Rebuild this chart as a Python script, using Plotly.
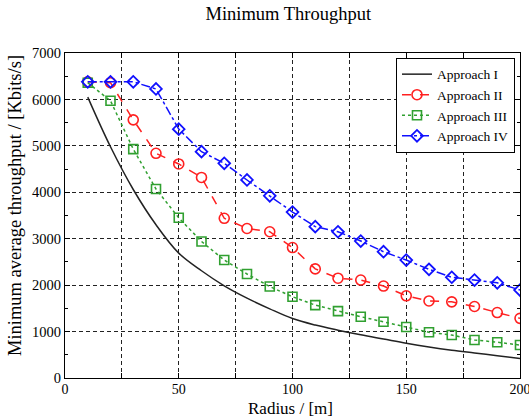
import plotly.graph_objects as go

radius = [10, 20, 30, 40, 50, 60, 70, 80, 90, 100,
          110, 120, 130, 140, 150, 160, 170, 180, 190, 200]

approach_1 = [6050, 4980, 4060, 3300, 2690, 2310, 1985, 1720, 1490, 1280,
              1140, 1030, 930, 840, 750, 670, 600, 540, 480, 420]
approach_2 = [6380, 6360, 5560, 4840, 4610, 4320, 3440, 3220, 3150, 2810,
              2350, 2150, 2110, 1980, 1770, 1660, 1640, 1540, 1410, 1285]
approach_3 = [6360, 5970, 4930, 4070, 3450, 2940, 2540, 2240, 1970, 1750,
              1570, 1440, 1320, 1210, 1100, 985, 925, 820, 770, 710]
approach_4 = [6380, 6380, 6380, 6225, 5360, 4875, 4625, 4265, 3925, 3575,
              3260, 3150, 2950, 2720, 2540, 2340, 2170, 2110, 2050, 1895]

names = ["Approach I", "Approach II", "Approach III", "Approach IV"]

x_tickvals = [0, 25, 50, 75, 100, 125, 150, 175, 200]
x_ticktext = ["0", "", "50", "", "100", "", "150", "", "200"]
y_tickvals = [0, 1000, 2000, 3000, 4000, 5000, 6000, 7000]

FONT = "Liberation Serif"

fig = go.Figure()
fig.add_trace(go.Scatter(x=radius, y=approach_1, name=names[0], mode="lines",
                         line=dict(color="#222222", width=1.5, shape="spline")))
fig.add_trace(go.Scatter(x=radius, y=approach_2, name=names[1], mode="lines+markers",
                         line=dict(color="#ff2020", width=1.5, dash="dash"),
                         marker=dict(symbol="circle-open", size=10, color="#ff2020",
                                     line=dict(width=1.6))))
fig.add_trace(go.Scatter(x=radius, y=approach_3, name=names[2], mode="lines+markers",
                         line=dict(color="#30a030", width=1.5, dash="dot"),
                         marker=dict(symbol="square-open", size=9, color="#30a030",
                                     line=dict(width=1.6))))
fig.add_trace(go.Scatter(x=radius, y=approach_4, name=names[3], mode="lines+markers",
                         line=dict(color="#1010ff", width=1.5, dash="dashdot"),
                         marker=dict(symbol="diamond-open", size=9, color="#1010ff",
                                     line=dict(width=1.8))))

axis_common = dict(
    showline=True, linecolor="black", linewidth=1, mirror="ticks",
    ticks="inside", ticklen=5, tickcolor="black",
    showgrid=True, gridcolor="#222222", gridwidth=1, griddash="4px,3px",
    zeroline=False, ticklabeloverflow="allow", automargin=False,
)

fig.update_xaxes(range=[0, 200], tickvals=x_tickvals, ticktext=x_ticktext,
                 ticklabelstandoff=-2,
                 tickfont=dict(family=FONT, size=14, color="black"), **axis_common)
fig.update_yaxes(range=[0, 7000], tickvals=y_tickvals,
                 minor=dict(dtick=500, ticks="inside", ticklen=3, tickcolor="black", showgrid=False),
                 tickfont=dict(family=FONT, size=14.5, color="black"), **axis_common)

fig.add_annotation(text="Radius / [m]", xref="paper", yref="paper", x=0.495, y=-0.093,
                   xanchor="center", yanchor="middle", showarrow=False,
                   font=dict(family=FONT, size=17, color="black"))
fig.add_annotation(text="Minimum average throughput / [Kbits/s]", xref="paper", yref="paper",
                   x=-0.11, y=0.532, xanchor="center", yanchor="middle", textangle=-90,
                   showarrow=False, font=dict(family=FONT, size=18.5, color="black"))

fig.update_layout(
    width=529, height=417,
    margin=dict(l=65, r=9, t=53, b=39),
    paper_bgcolor="white", plot_bgcolor="white",
    title=dict(text="Minimum Throughput", x=0.545, xanchor="center", y=0.967, yanchor="middle",
               font=dict(family=FONT, size=18.5, color="black")),
    font=dict(family=FONT, color="black"),
    showlegend=True,
    legend=dict(x=0.989, y=0.985, xanchor="right", yanchor="top",
                bgcolor="white", bordercolor="black", borderwidth=1,
                font=dict(family=FONT, size=13.5, color="black"),
                tracegroupgap=0, itemwidth=30),
)

fig.write_html(
    "out.html",
    config={"displayModeBar": False},
    post_script="document.body.style.margin='0';document.body.style.overflow='hidden';",
)
